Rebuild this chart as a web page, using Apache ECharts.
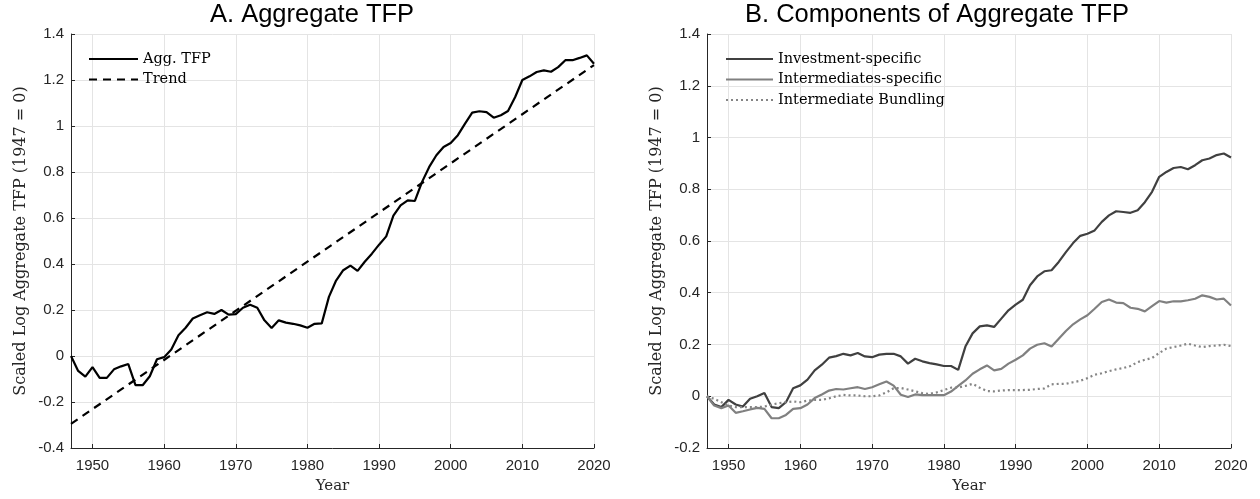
<!DOCTYPE html>
<html>
<head>
<meta charset="utf-8">
<script src="https://cdn.jsdelivr.net/npm/echarts@6/dist/echarts.min.js"></script>
<style>html,body{margin:0;padding:0;background:#fff}#c{width:1260px;height:499px}</style>
</head>
<body>
<div id="c"></div>
<script>
var years = [1947,1948,1949,1950,1951,1952,1953,1954,1955,1956,1957,1958,1959,1960,1961,1962,1963,1964,1965,1966,1967,1968,1969,1970,1971,1972,1973,1974,1975,1976,1977,1978,1979,1980,1981,1982,1983,1984,1985,1986,1987,1988,1989,1990,1991,1992,1993,1994,1995,1996,1997,1998,1999,2000,2001,2002,2003,2004,2005,2006,2007,2008,2009,2010,2011,2012,2013,2014,2015,2016,2017,2018,2019,2020];
var aggTFP = [0,-0.065,-0.09,-0.048,-0.095,-0.095,-0.058,-0.045,-0.035,-0.127,-0.127,-0.088,-0.014,-0.005,0.028,0.09,0.123,0.163,0.177,0.19,0.183,0.2,0.18,0.182,0.21,0.223,0.21,0.155,0.122,0.155,0.145,0.14,0.133,0.123,0.14,0.142,0.257,0.328,0.373,0.393,0.37,0.41,0.445,0.484,0.52,0.61,0.655,0.677,0.674,0.757,0.822,0.873,0.909,0.926,0.96,1.01,1.058,1.064,1.06,1.036,1.047,1.065,1.126,1.2,1.216,1.235,1.242,1.236,1.256,1.286,1.286,1.296,1.307,1.271];
var trendYears = [1947, 2020];
var trendValues = [-0.295, 1.265];
var investment = [0,-0.032,-0.042,-0.014,-0.032,-0.04,-0.01,0,0.013,-0.042,-0.046,-0.023,0.031,0.042,0.064,0.1,0.122,0.149,0.155,0.164,0.158,0.167,0.154,0.151,0.161,0.164,0.164,0.154,0.126,0.145,0.135,0.128,0.123,0.117,0.117,0.102,0.192,0.243,0.27,0.274,0.268,0.3,0.332,0.354,0.373,0.429,0.463,0.483,0.487,0.519,0.557,0.592,0.62,0.628,0.641,0.674,0.699,0.715,0.712,0.709,0.719,0.75,0.79,0.848,0.867,0.882,0.886,0.877,0.893,0.912,0.919,0.932,0.938,0.923];
var intermediates = [0,-0.036,-0.046,-0.036,-0.064,-0.058,-0.051,-0.045,-0.049,-0.085,-0.085,-0.072,-0.049,-0.046,-0.032,-0.007,0.007,0.022,0.028,0.026,0.031,0.035,0.028,0.035,0.046,0.057,0.041,0.006,-0.003,0.007,0.004,0.004,0.004,0.004,0.018,0.04,0.061,0.087,0.104,0.119,0.1,0.106,0.126,0.141,0.158,0.184,0.199,0.205,0.192,0.222,0.252,0.278,0.297,0.313,0.338,0.364,0.374,0.362,0.36,0.342,0.338,0.328,0.348,0.368,0.362,0.367,0.367,0.371,0.377,0.39,0.384,0.374,0.377,0.351];
var bundling = [0,-0.01,-0.023,-0.036,-0.042,-0.042,-0.042,-0.042,-0.04,-0.032,-0.027,-0.023,-0.02,-0.023,-0.017,-0.014,-0.014,-0.008,0,0.005,0.003,0.003,0,0,0.003,0.015,0.031,0.032,0.026,0.019,0.012,0.009,0.015,0.024,0.033,0.034,0.04,0.048,0.033,0.02,0.019,0.022,0.024,0.024,0.024,0.025,0.028,0.03,0.046,0.048,0.048,0.054,0.06,0.07,0.083,0.089,0.097,0.104,0.109,0.117,0.132,0.141,0.148,0.167,0.184,0.19,0.196,0.203,0.196,0.19,0.194,0.196,0.199,0.194];
var xTicks = [1950,1960,1970,1980,1990,2000,2010,2020];

function pairs(xs, ys){ return xs.map(function(x,i){ return [x, ys[i]]; }); }

var axisCol = '#262626', gridCol = '#e4e4e4';
var sans = 'Liberation Sans', serif = 'DejaVu Serif';

function xAxis(idx){
  return {
    type:'value', gridIndex: idx, min:1947, max:2020,
    name:'Year', nameLocation:'middle', nameGap:31,
    nameTextStyle:{fontFamily:serif, fontSize:15, color:axisCol},
    axisLine:{show:true, onZero:false, lineStyle:{color:axisCol, width:1}},
    axisTick:{show:true, inside:true, length:4, customValues:xTicks, lineStyle:{color:axisCol}},
    axisLabel:{customValues:xTicks, fontFamily:sans, fontSize:15, color:axisCol, margin:10,
      formatter:function(v){ return String(v); }},
    splitLine:{show:true, lineStyle:{color:gridCol, width:1}}
  };
}
function yAxis(idx, mn){
  return {
    type:'value', gridIndex: idx, min:mn, max:1.4, interval:0.2,
    name:'Scaled Log Aggregate TFP (1947 = 0)', nameLocation:'middle', nameGap:42, nameRotate:90,
    nameTextStyle:{fontFamily:serif, fontSize:16, color:axisCol},
    axisLine:{show:true, onZero:false, lineStyle:{color:axisCol, width:1}},
    axisTick:{show:true, inside:true, length:4, lineStyle:{color:axisCol}},
    axisLabel:{fontFamily:sans, fontSize:15, color:axisCol, margin:7},
    splitLine:{show:true, lineStyle:{color:gridCol, width:1}}
  };
}
var legendCommon = {orient:'vertical', padding:0, itemHeight:14, itemGap:5.5,
  itemStyle:{opacity:0, borderWidth:0},
  textStyle:{fontFamily:serif, fontSize:14.5, color:'#000'}};

var chart = echarts.init(document.getElementById('c'), null, {renderer:'canvas'});
chart.setOption({
  animation:false,
  backgroundColor:'#fff',
  title:[
    {text:'A. Aggregate TFP', left:210, top:2, padding:0, textStyle:{fontFamily:sans, fontSize:25.5, fontWeight:'normal', color:'#000'}},
    {text:'B. Components of Aggregate TFP', left:745, top:2, padding:0, textStyle:{fontFamily:sans, fontSize:25.5, fontWeight:'normal', color:'#000'}}
  ],
  grid:[
    {left:71, right:666, top:34, bottom:51},
    {left:707, right:29, top:34, bottom:51}
  ],
  legend:[
    Object.assign({data:['Agg. TFP','Trend'], left:88, top:51.5, itemWidth:49}, legendCommon),
    Object.assign({data:['Investment-specific','Intermediates-specific','Intermediate Bundling'], left:725, top:51.5, itemWidth:47}, legendCommon)
  ],
  xAxis:[xAxis(0), xAxis(1)],
  yAxis:[yAxis(0,-0.4), yAxis(1,-0.2)],
  series:[
    {name:'Agg. TFP', type:'line', xAxisIndex:0, yAxisIndex:0, data:pairs(years, aggTFP), showSymbol:false, symbol:'none',
     lineStyle:{color:'#000', width:2.2}, itemStyle:{color:'#000'}},
    {name:'Trend', type:'line', xAxisIndex:0, yAxisIndex:0, data:pairs(trendYears, trendValues), showSymbol:false, symbol:'none',
     lineStyle:{color:'#000', width:2.2, type:[8,6]}, itemStyle:{color:'#000'}},
    {name:'Investment-specific', type:'line', xAxisIndex:1, yAxisIndex:1, data:pairs(years, investment), showSymbol:false, symbol:'none',
     lineStyle:{color:'#404040', width:2.2}, itemStyle:{color:'#404040'}},
    {name:'Intermediates-specific', type:'line', xAxisIndex:1, yAxisIndex:1, data:pairs(years, intermediates), showSymbol:false, symbol:'none',
     lineStyle:{color:'#808080', width:2.2}, itemStyle:{color:'#808080'}},
    {name:'Intermediate Bundling', type:'line', xAxisIndex:1, yAxisIndex:1, data:pairs(years, bundling), showSymbol:false, symbol:'none',
     lineStyle:{color:'#858585', width:2.2, type:[2,3]}, itemStyle:{color:'#858585'}}
  ]
});
</script>
</body>
</html>
